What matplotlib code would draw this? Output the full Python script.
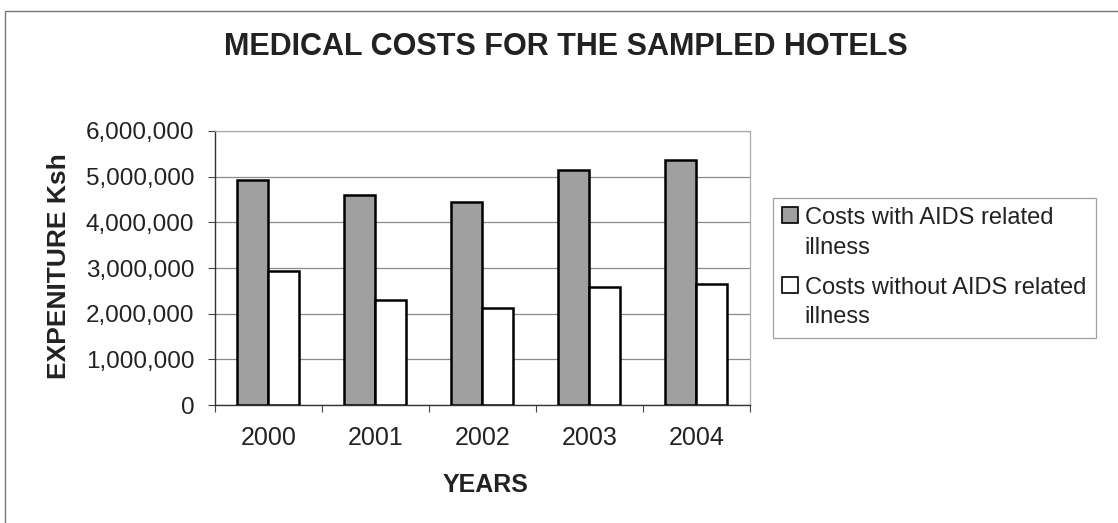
import matplotlib
matplotlib.use("Agg")
import matplotlib.pyplot as plt
from matplotlib.patches import Rectangle
import numpy as np

years = ["2000", "2001", "2002", "2003", "2004"]
costs_with_aids = [4930000, 4600000, 4440000, 5150000, 5370000]
costs_without_aids = [2930000, 2290000, 2130000, 2580000, 2660000]
series_labels = ["Costs with AIDS related\nillness", "Costs without AIDS related\nillness"]
yticks = [0, 1000000, 2000000, 3000000, 4000000, 5000000, 6000000]

plt.rcParams['font.family'] = ['Liberation Sans', 'DejaVu Sans']

W, H = 1118, 523
fig = plt.figure(figsize=(W / 100, H / 100), dpi=100)
fig.patch.set_facecolor('white')

# chart border (only top and left visible)
fig.patches.append(Rectangle((5 / W, -0.2), 1.5, (H - 11) / H + 0.2,
                             transform=fig.transFigure, fill=False,
                             edgecolor='#777777', linewidth=1.0))

ax = fig.add_axes([215 / W, (H - 405) / H, (750 - 215) / W, (405 - 131) / H])
x = np.arange(len(years))
w = 0.29
ax.bar(x - 0.15, costs_with_aids, width=w, color='#a0a0a0', edgecolor='black',
       linewidth=1.8, label=series_labels[0], zorder=3)
ax.bar(x + 0.14, costs_without_aids, width=w, color='white', edgecolor='black',
       linewidth=1.8, label=series_labels[1], zorder=3)

ax.set_xlim(-0.5, len(years) - 0.5)
ax.set_ylim(0, 6000000)
ax.set_yticks(yticks)
ax.set_yticklabels([f"{v:,}" for v in yticks], fontsize=17.5, color='#222222')
ax.yaxis.grid(True, color='#8a8a8a', linewidth=0.9, zorder=0)

ax.set_xticks(np.arange(-0.5, len(years)), minor=False)
ax.set_xticklabels([])
ax.set_xticks(x, minor=True)
ax.set_xticklabels(years, minor=True, fontsize=18, color='#222222')
ax.tick_params(axis='x', which='major', length=5, direction='out', color='#444444')
ax.tick_params(axis='x', which='minor', length=0, pad=15)
ax.tick_params(axis='y', length=5, direction='out', color='#444444', pad=10)

for side in ['top', 'right']:
    ax.spines[side].set_color('#aaaaaa')
    ax.spines[side].set_linewidth(0.9)
for side in ['left', 'bottom']:
    ax.spines[side].set_color('#333333')
    ax.spines[side].set_linewidth(1.0)

fig.text(566 / W, (H - 47) / H, "MEDICAL COSTS FOR THE SAMPLED HOTELS",
         ha='center', va='center', fontsize=22, fontweight='bold', color='#222222')
fig.text(59 / W, (H - 266) / H, "EXPENITURE Ksh", rotation=90,
         ha='center', va='center', fontsize=19, fontweight='bold', color='#222222')
fig.text(486 / W, (H - 485) / H, "YEARS",
         ha='center', va='center', fontsize=18, fontweight='bold', color='#222222')

leg = fig.legend(loc='upper left', bbox_to_anchor=(773 / W, (H - 198) / H),
                 fontsize=17, frameon=True, fancybox=False,
                 edgecolor='#888888', handlelength=0.65, handleheight=0.65,
                 handletextpad=0.3, labelspacing=0.75, borderpad=0.4,
                 borderaxespad=0)
leg.get_frame().set_linewidth(0.9)
for h in leg.legend_handles:
    h.set_linewidth(1.2)
for t in leg.get_texts():
    t.set_linespacing(1.45)
    t.set_color('#222222')
# align legend handles with the first line of each label
for column in leg._legend_handle_box.get_children():
    for entry in column.get_children():
        entry.align = "top"

fig.savefig("out.png", dpi=100, facecolor='white')
